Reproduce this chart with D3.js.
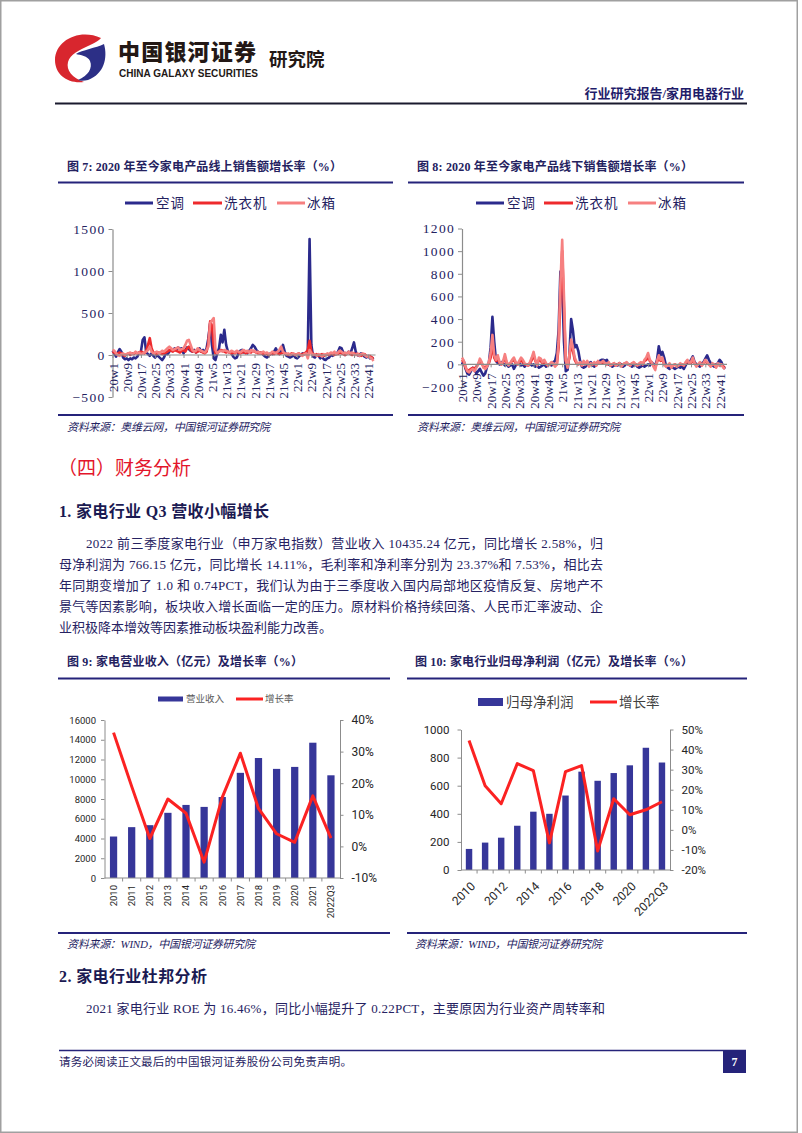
<!DOCTYPE html>
<html><head><meta charset="utf-8">
<script src="https://cdn.jsdelivr.net/npm/d3@7"></script>
<style>html,body{margin:0;padding:0;background:#fff;}svg{display:block;}</style>
</head><body>
<svg id="page" width="802" height="1133"></svg>
<script>
// ---------------- DATA ----------------
const weekYears = [["20",52],["21",52],["22",44]];
const weekTicks = ["20w1","20w9","20w17","20w25","20w33","20w41","20w49","21w5","21w13","21w21","21w29","21w37","21w45","22w1","22w9","22w17","22w25","22w33","22w41"];
const seriesNames = ["空调","洗衣机","冰箱"];

// Fig 7: online sales growth (%)
const acOnline = [
 50,20,-20,30,70,40,-30,-50,-40,-60, -40,-50,-30,-40,-20,30,40,180,210,30, 10,-10,20,-10,-30,0,-20,-40,-60,-30,
 20,10,40,60,50,80,60,90,70,80, 20,60,90,70,50,40,60,30,50,80, 40,60,
 30,80,200,380,120,-40,-60,20,80,240, 150,300,120,40,30,20,-20,-40,-30,20, 50,60,30,40,20,50,80,120,100,60,
 40,20,30,0,-20,-30,-10,20,10,40, 80,30,10,60,120,40,-10,-20,-30,-20, 0,-30,
 -40,-20,0,20,10,20,60,1380,120,-20, -30,0,-10,-40,-20,-50,-60,-40,-30,0, -10,20,10,40,90,80,30,0,20,40,
 20,80,150,40,0,-10,20,10,-20,-30, -10,-40,-30,-50];
const wmOnline = [
 40,30,10,20,30,20,0,-10,10,20, 0,20,10,30,20,30,40,30,20,50, 120,200,80,30,20,10,30,20,10,20,
 30,40,60,50,40,60,50,40,30,50, 60,40,80,100,60,40,50,30,40,50, 40,30,
 20,40,150,400,350,100,20,30,40,60, 50,40,30,40,30,20,30,20,40,30, 20,30,40,20,30,40,30,50,40,30,
 20,30,20,10,20,10,0,10,20,10, 30,20,10,20,30,20,10,0,10,20, 10,0,
 10,20,0,10,20,30,60,170,40,10, 0,10,-10,0,10,-10,0,10,0,20, 10,0,20,10,30,20,10,0,20,30,
 10,0,20,10,0,10,-10,0,10,-10, -20,-10,-30,-40];
const rfOnline = [
 60,50,20,0,-10,10,20,0,10,20, 30,10,20,40,20,30,10,20,30,40, 60,100,40,20,30,40,20,30,50,40,
 60,80,100,80,60,70,80,90,60,70, 80,120,170,180,120,60,40,50,80,60, 50,40,
 30,60,100,380,410,440,60,20,40,50, 40,60,50,40,30,50,40,30,50,40, 30,50,60,40,50,30,60,40,50,30,
 40,20,30,40,20,30,10,20,40,30, 20,40,60,100,40,20,10,20,0,10, 20,0,
 10,20,0,-10,10,20,-40,60,20,0, 10,-10,10,0,-20,10,0,20,10,30, 20,40,10,30,50,40,20,30,10,40,
 20,30,10,0,20,-10,10,20,0,-20, -10,-30,-40,-70];

// Fig 8: offline sales growth (%)
const acOffline = [
 0,30,-40,-80,-90,-60,-30,-50,-80,-60, -40,-70,-100,-80,-20,10,150,420,200,30, 10,0,20,10,-10,0,-20,-10,0,-40,
 -10,0,10,-10,0,-20,0,-10,10,-10, 0,-20,-10,-30,-20,-10,0,-20,-10,0, -10,20,
 30,100,300,820,700,200,-60,-50,80,400, 300,150,170,120,30,-20,-30,-20,0,10, 20,-10,-20,10,20,30,40,40,30,40,
 0,-10,-20,-10,0,-10,10,0,-20,-10, 10,0,-10,-20,-10,0,-20,-30,-20,-10, -20,-10,
 0,-10,20,0,-10,40,160,80,110,60, -10,-30,-40,-20,-30,-40,-30,-20,-30,-20, -40,-10,20,10,40,70,20,0,-10,-20,
 10,20,50,80,40,10,-10,-20,0,10, 40,20,-20,-40];
const wmOffline = [
 40,20,-30,-60,-50,-40,-30,-40,-20,0, 30,10,-20,-30,-10,10,60,180,60,30, 50,10,0,20,60,10,0,10,30,40,
 10,0,20,40,20,0,0,-10,10,40, 80,30,0,40,30,10,20,0,-10,0, 10,0,
 -10,0,150,600,1000,500,30,-20,60,180, 120,40,10,0,10,-10,20,0,20,-10, 0,0,10,-10,20,10,10,20,10,0,
 10,-10,0,10,-10,0,10,-10,0,10, 10,0,-10,10,10,0,-10,0,10,0, 30,40,
 70,30,10,-10,-30,20,60,30,40,0, -10,-10,0,-20,-10,0,-10,-10,0,0, -10,10,30,10,10,40,10,-10,0,10,
 -10,10,30,10,0,-10,0,0,-20,0, -10,0,-20,-30];
const rfOffline = [
 60,30,-20,-60,-70,-50,-40,-60,-30,0, 50,20,-30,-40,-20,20,100,260,80,40, 80,20,0,30,90,20,-10,10,40,60,
 20,0,30,60,40,10,0,-10,20,60, 110,40,-10,60,50,20,40,10,-10,0, 20,10,
 -20,0,200,700,1100,600,40,-30,80,220, 150,60,20,0,20,-10,30,0,30,-20, 10,0,20,-10,30,10,20,30,10,0,
 20,-10,0,10,-10,0,10,-20,0,10, 20,0,-10,10,20,0,-10,10,20,0, 40,60,
 100,40,20,-20,-50,30,80,40,60,0, -20,-10,10,-30,-10,0,-20,-10,10,0, -10,20,40,10,20,60,10,-20,0,20,
 -10,10,40,20,0,-20,10,0,-30,10, -10,0,-30,-40];
const onlineTicks = [-500,0,500,1000,1500];
const offlineTicks = [-200,0,200,400,600,800,1000,1200];

// Fig 9 & 10
const years = ["2010","2011","2012","2013","2014","2015","2016","2017","2018","2019","2020","2021","2022Q3"];
const revenue = [4200,5150,5350,6600,7400,7200,8200,10650,12150,11050,11250,13700,10400];
const revenueGrowth = [36,19,2.5,15,10.5,-5,15.5,29.5,12,4,1.3,16,2.6];
const revTicks = [0,2000,4000,6000,8000,10000,12000,14000,16000];
const revPctTicks = [-10,0,10,20,30,40];
const profit = [150,195,230,315,415,400,530,700,635,690,745,870,765];
const profitGrowth = [44.5,22,13,33,29.5,-6.5,29,32,-10.5,15.5,7.5,10,14];
const profitTicks = [0,200,400,600,800,1000];
const profitPctTicks = [-20,-10,0,10,20,30,40,50];
const profitLabelYears = ["2010","2012","2014","2016","2018","2020","2022Q3"];

// ---------------- STYLE ----------------
const SERIF = "'Liberation Serif','Times New Roman','Noto Sans CJK SC',serif";
const CJK = "'Noto Sans CJK SC',sans-serif";
const SANS = "Roboto,'Noto Sans CJK SC',sans-serif";
const NAVY = "#2b2a8c", RED = "#ee2a2d", PINK = "#f68080";
const TXT = "#24225f", AXIS = "#8c8c8c", BAR = "#363699", LINE = "#fb2222";
const intFmt = d3.format("d");

const weeks = [];
weekYears.forEach(([yy,n]) => { for (let w = 1; w <= n; w++) weeks.push(yy + "w" + w); });

const svg = d3.select("#page");
svg.append("rect").attr("x",0.75).attr("y",0.75).attr("width",796.5).attr("height",1131.5)
  .attr("fill","#fff").attr("stroke","#a0a0a0").attr("stroke-width",1.5);

function txt(x, y, s, o) {
  const t = svg.append("text").attr("x",x).attr("y",y).text(s)
    .attr("font-family", o.ff || SERIF).attr("font-size", o.fs || 13)
    .attr("fill", o.fill || TXT);
  if (o.fw) t.attr("font-weight", o.fw);
  if (o.anchor) t.attr("text-anchor", o.anchor);
  if (o.italic) t.attr("font-style","italic");
  if (o.len) t.attr("textLength", o.len).attr("lengthAdjust","spacing");
  if (o.ls) t.attr("letter-spacing", o.ls);
  return t;
}
function hline(x1, x2, y, color, w) {
  svg.append("line").attr("x1",x1).attr("x2",x2).attr("y1",y).attr("y2",y)
    .attr("stroke",color).attr("stroke-width",w);
}

// ---------------- HEADER ----------------
const logo = svg.append("g");
logo.append("path").attr("fill","#d8262e")
  .attr("d","M101 38 C80 28,55 40,55 60 C55 75,68 84,84 82 C72 78,66 70,68 62 C70 54,80 50,88 46 C94 43,99 41,101 38 Z");
logo.append("path").attr("fill","#2c2f86")
  .attr("d","M104 44 C108 58,104 74,88 80 C84 81,80 81,78 80 C88 76,93 68,90 61 C88 56,80 55,76 54 C82 50,96 48,104 44 Z");
txt(118, 60, "中国银河证券", {ff: CJK, fs: 22, fw: 900, fill: "#231815", len: 138});
txt(119, 77, "CHINA GALAXY SECURITIES", {ff: "'Liberation Sans',Arial,sans-serif", fs: 10, fw: 700, fill: "#231815", len: 139});
txt(269, 66, "研究院", {ff: CJK, fs: 18.5, fw: 700, fill: "#231815"});
txt(744, 98, "行业研究报告/家用电器行业", {ff: SERIF, fs: 13, fw: 700, fill: "#1f1c6a", anchor: "end"});
hline(55, 747, 103.5, "#1a1a2e", 2);

// ---------------- WEEKLY CHARTS ----------------
function weekly(c) {
  const g = svg.append("g");
  const x = d3.scalePoint().domain(weeks).range([c.x0, c.x1]);
  const y = d3.scaleLinear().domain(c.yDom).range(c.yRng);
  const ya = g.append("g").attr("transform", `translate(${c.x0},0)`)
    .call(d3.axisLeft(y).tickValues(c.ticks).tickFormat(intFmt).tickSize(4).tickSizeOuter(0).tickPadding(3));
  ya.select(".domain").attr("stroke", AXIS).attr("stroke-width", 1.2);
  ya.selectAll(".tick line").attr("stroke", AXIS);
  ya.selectAll("text").attr("font-family", SERIF).attr("font-size", 13.5).attr("fill", TXT).attr("letter-spacing", 1.3);
  // series
  const line = d3.line().x((d, i) => x(weeks[i])).y(d => y(d)).curve(d3.curveLinear);
  const cols = [NAVY, RED, PINK];
  c.series.forEach((s, k) => {
    g.append("path").datum(s).attr("d", line).attr("fill","none").attr("stroke", cols[k])
      .attr("stroke-width", 2.6).attr("stroke-linejoin","round");
  });
  // x axis at zero
  const xa = g.append("g").attr("transform", `translate(0,${y(0)})`)
    .call(d3.axisBottom(x).tickValues(weekTicks).tickSize(3).tickSizeOuter(0).tickPadding(0));
  xa.select(".domain").attr("stroke", AXIS).attr("stroke-width", 1.2).attr("d", `M${c.x0},0H${c.x1 + 2}`);
  xa.selectAll(".tick line").attr("stroke", AXIS);
  xa.selectAll("text").attr("font-family", SERIF).attr("font-size", 13).attr("fill", TXT)
    .attr("transform","rotate(-90)").attr("text-anchor","end").attr("x", -c.labOff).attr("y", 0).attr("dy","0.35em");
  // legend
  const lg = [[c.lx, c.lx + 28, c.lx + 31], [c.lx + 68, c.lx + 97, c.lx + 99], [c.lx + 152, c.lx + 180, c.lx + 182]];
  lg.forEach((p, k) => {
    g.append("line").attr("x1", p[0]).attr("x2", p[1]).attr("y1", c.ly).attr("y2", c.ly)
      .attr("stroke", cols[k]).attr("stroke-width", 3);
    g.append("text").attr("x", p[2]).attr("y", c.ly + 5).text(seriesNames[k])
      .attr("font-family", CJK).attr("font-size", 13.5).attr("letter-spacing", 1).attr("fill", TXT);
  });
}

// titles & rules for top charts
txt(67, 171, "图 7: 2020 年至今家电产品线上销售额增长率（%）", {fs: 12, fw: 700, len: 275});
txt(417, 171, "图 8: 2020 年至今家电产品线下销售额增长率（%）", {fs: 12, fw: 700, len: 276});
hline(58, 393, 182.5, "#25237a", 2);
hline(408, 744, 182.5, "#25237a", 2);

weekly({x0: 112.5, x1: 373.5, yDom: [-500, 1500], yRng: [397, 229], ticks: onlineTicks,
  series: [acOnline, wmOnline, rfOnline], labOff: 8, lx: 125, ly: 203});
weekly({x0: 462, x1: 725, yDom: [-200, 1200], yRng: [387, 228.5], ticks: offlineTicks,
  series: [acOffline, wmOffline, rfOffline], labOff: 9, lx: 476, ly: 203});

hline(58, 393, 415, "#25237a", 2);
hline(408, 744, 415, "#25237a", 2);
txt(67, 431, "资料来源：奥维云网，中国银河证券研究院", {fs: 11, italic: true, len: 203});
txt(417, 431, "资料来源：奥维云网，中国银河证券研究院", {fs: 11, italic: true, len: 203});

// ---------------- TEXT BLOCK ----------------
txt(58, 475, "（四）财务分析", {ff: CJK, fs: 19, fill: "#e3152b"});
txt(59, 517, "1. 家电行业 Q3 营收小幅增长", {fs: 16, fw: 700, fill: "#1b1a52", len: 210});
const paraLines = [
  "2022 前三季度家电行业（申万家电指数）营业收入 10435.24 亿元，同比增长 2.58%，归",
  "母净利润为 766.15 亿元，同比增长 14.11%，毛利率和净利率分别为 23.37%和 7.53%，相比去",
  "年同期变增加了 1.0 和 0.74PCT，我们认为由于三季度收入国内局部地区疫情反复、房地产不",
  "景气等因素影响，板块收入增长面临一定的压力。原材料价格持续回落、人民币汇率波动、企",
  "业积极降本增效等因素推动板块盈利能力改善。"];
paraLines.forEach((s, i) => {
  const x0 = i === 0 ? 86 : 59;
  const o = {fs: 13, fill: "#262262"};
  if (i < 4) o.len = 603 - x0;
  txt(x0, 548 + i * 20.9, s, o);
});

// ---------------- COMBO CHARTS ----------------
function combo(c) {
  const g = svg.append("g");
  const x = d3.scaleBand().domain(years).range([c.x0, c.x1]).paddingInner(0.6).paddingOuter(0.3);
  const yL = d3.scaleLinear().domain(c.lDom).range([c.yb, c.yt]);
  const yR = d3.scaleLinear().domain(c.rDom).range([c.yb, c.yt]);
  // bars
  g.selectAll("rect.bar").data(c.bars).enter().append("rect")
    .attr("x", (d, i) => x(years[i])).attr("width", x.bandwidth())
    .attr("y", d => yL(d)).attr("height", d => c.yb - yL(d)).attr("fill", BAR);
  // axes
  const la = g.append("g").attr("transform", `translate(${c.x0},0)`)
    .call(d3.axisLeft(yL).tickValues(c.lTicks).tickFormat(intFmt).tickSize(3.5).tickSizeOuter(0).tickPadding(c.lPad));
  const ra = g.append("g").attr("transform", `translate(${c.x1},0)`)
    .call(d3.axisRight(yR).tickValues(c.rTicks).tickSize(3.5).tickSizeOuter(0).tickPadding(c.rPad).tickFormat(d => d + "%"));
  [la, ra].forEach(a => { a.select(".domain").attr("stroke", AXIS); a.selectAll(".tick line").attr("stroke", AXIS); });
  la.selectAll("text").attr("font-family", SANS).attr("font-size", c.lfs).attr("fill", "#262626");
  ra.selectAll("text").attr("font-family", SANS).attr("font-size", c.rfs).attr("fill", "#262626");
  // x axis line + boundary ticks
  g.append("line").attr("x1", c.x0).attr("x2", c.x1).attr("y1", c.yb).attr("y2", c.yb).attr("stroke", AXIS);
  const step = x.step();
  years.forEach((yr, i) => {
    const bx = x(yr) + x.bandwidth() / 2 - step / 2;
    if (i > 0) g.append("line").attr("x1", bx).attr("x2", bx).attr("y1", c.yb).attr("y2", c.yb + 3.5).attr("stroke", AXIS);
  });
  // x labels
  years.forEach((yr, i) => {
    if (c.labelYears && c.labelYears.indexOf(yr) < 0) return;
    const cx = x(yr) + x.bandwidth() / 2;
    if (c.rot === -90) {
      g.append("text").attr("transform", `translate(${cx},${c.yb + 7}) rotate(-90)`)
        .attr("text-anchor","end").attr("dy","0.35em").text(yr)
        .attr("font-family", SANS).attr("font-size", c.xfs).attr("fill", "#262626");
    } else {
      g.append("text").attr("transform", `translate(${cx + 1},${c.yb + 11}) rotate(-45)`)
        .attr("text-anchor","end").attr("dy","0.71em").text(yr)
        .attr("font-family", SANS).attr("font-size", c.xfs).attr("fill", "#262626");
    }
  });
  // growth line
  const ln = d3.line().x((d, i) => x(years[i]) + x.bandwidth() / 2).y(d => yR(d));
  g.append("path").datum(c.line).attr("d", ln).attr("fill","none").attr("stroke", LINE)
    .attr("stroke-width", 3).attr("stroke-linejoin","round");
  // legend
  const L = c.leg;
  g.append("rect").attr("x", L.bx).attr("y", L.y - L.bh / 2).attr("width", 25).attr("height", L.bh).attr("fill", BAR);
  g.append("text").attr("x", L.bx + 28).attr("y", L.y).attr("dy","0.35em").text(L.names[0])
    .attr("font-family", CJK).attr("font-size", L.fs).attr("fill", L.col);
  g.append("line").attr("x1", L.lx).attr("x2", L.lx + 27).attr("y1", L.y).attr("y2", L.y).attr("stroke", LINE).attr("stroke-width", 3);
  g.append("text").attr("x", L.lx + 29).attr("y", L.y).attr("dy","0.35em").text(L.names[1])
    .attr("font-family", CJK).attr("font-size", L.fs).attr("fill", L.col);
}

txt(67, 666, "图 9: 家电营业收入（亿元）及增长率（%）", {fs: 12, fw: 700, len: 236});
txt(415, 666, "图 10: 家电行业归母净利润（亿元）及增长率（%）", {fs: 12, fw: 700, len: 278});
hline(58, 390, 678.5, "#25237a", 2);
hline(407, 747, 678.5, "#25237a", 2);

combo({x0: 104.5, x1: 340, yb: 878, yt: 720, lDom: [0, 16000], rDom: [-10, 40],
  lTicks: revTicks, rTicks: revPctTicks, bars: revenue, line: revenueGrowth,
  lfs: 9.5, rfs: 12, xfs: 9.5, lPad: 5, rPad: 8, rot: -90,
  leg: {bx: 158, lx: 236, y: 699, bh: 5, fs: 9.5, col: "#595959", names: ["营业收入","增长率"]}});
combo({x0: 461, x1: 670, yb: 870, yt: 729.5, lDom: [0, 1000], rDom: [-20, 50],
  lTicks: profitTicks, rTicks: profitPctTicks, bars: profit, line: profitGrowth,
  lfs: 11.5, rfs: 11.5, xfs: 12, lPad: 8, rPad: 8, rot: -45, labelYears: profitLabelYears,
  leg: {bx: 478, lx: 590, y: 702, bh: 8, fs: 13.5, col: "#404040", names: ["归母净利润","增长率"]}});

hline(58, 390, 933, "#25237a", 2);
hline(407, 747, 933, "#25237a", 2);
txt(67, 948, "资料来源：WIND，中国银河证券研究院", {fs: 11, italic: true, len: 188});
txt(415, 948, "资料来源：WIND，中国银河证券研究院", {fs: 11, italic: true, len: 187});

// ---------------- SECTION 2 + FOOTER ----------------
txt(59, 982, "2. 家电行业杜邦分析", {fs: 16, fw: 700, fill: "#1b1a52", len: 148});
txt(86, 1013, "2021 家电行业 ROE 为 16.46%，同比小幅提升了 0.22PCT，主要原因为行业资产周转率和", {fs: 13, fill: "#262262", len: 519});
hline(59, 746, 1050.5, "#25237a", 1.6);
svg.append("rect").attr("x", 723).attr("y", 1051).attr("width", 23).attr("height", 22).attr("fill", "#25237a");
txt(734.5, 1066, "7", {fs: 12, fw: 700, fill: "#fff", anchor: "middle"});
txt(59, 1066, "请务必阅读正文最后的中国银河证券股份公司免责声明。", {fs: 11.5, fill: "#262262", len: 293});
</script>
</body></html>
